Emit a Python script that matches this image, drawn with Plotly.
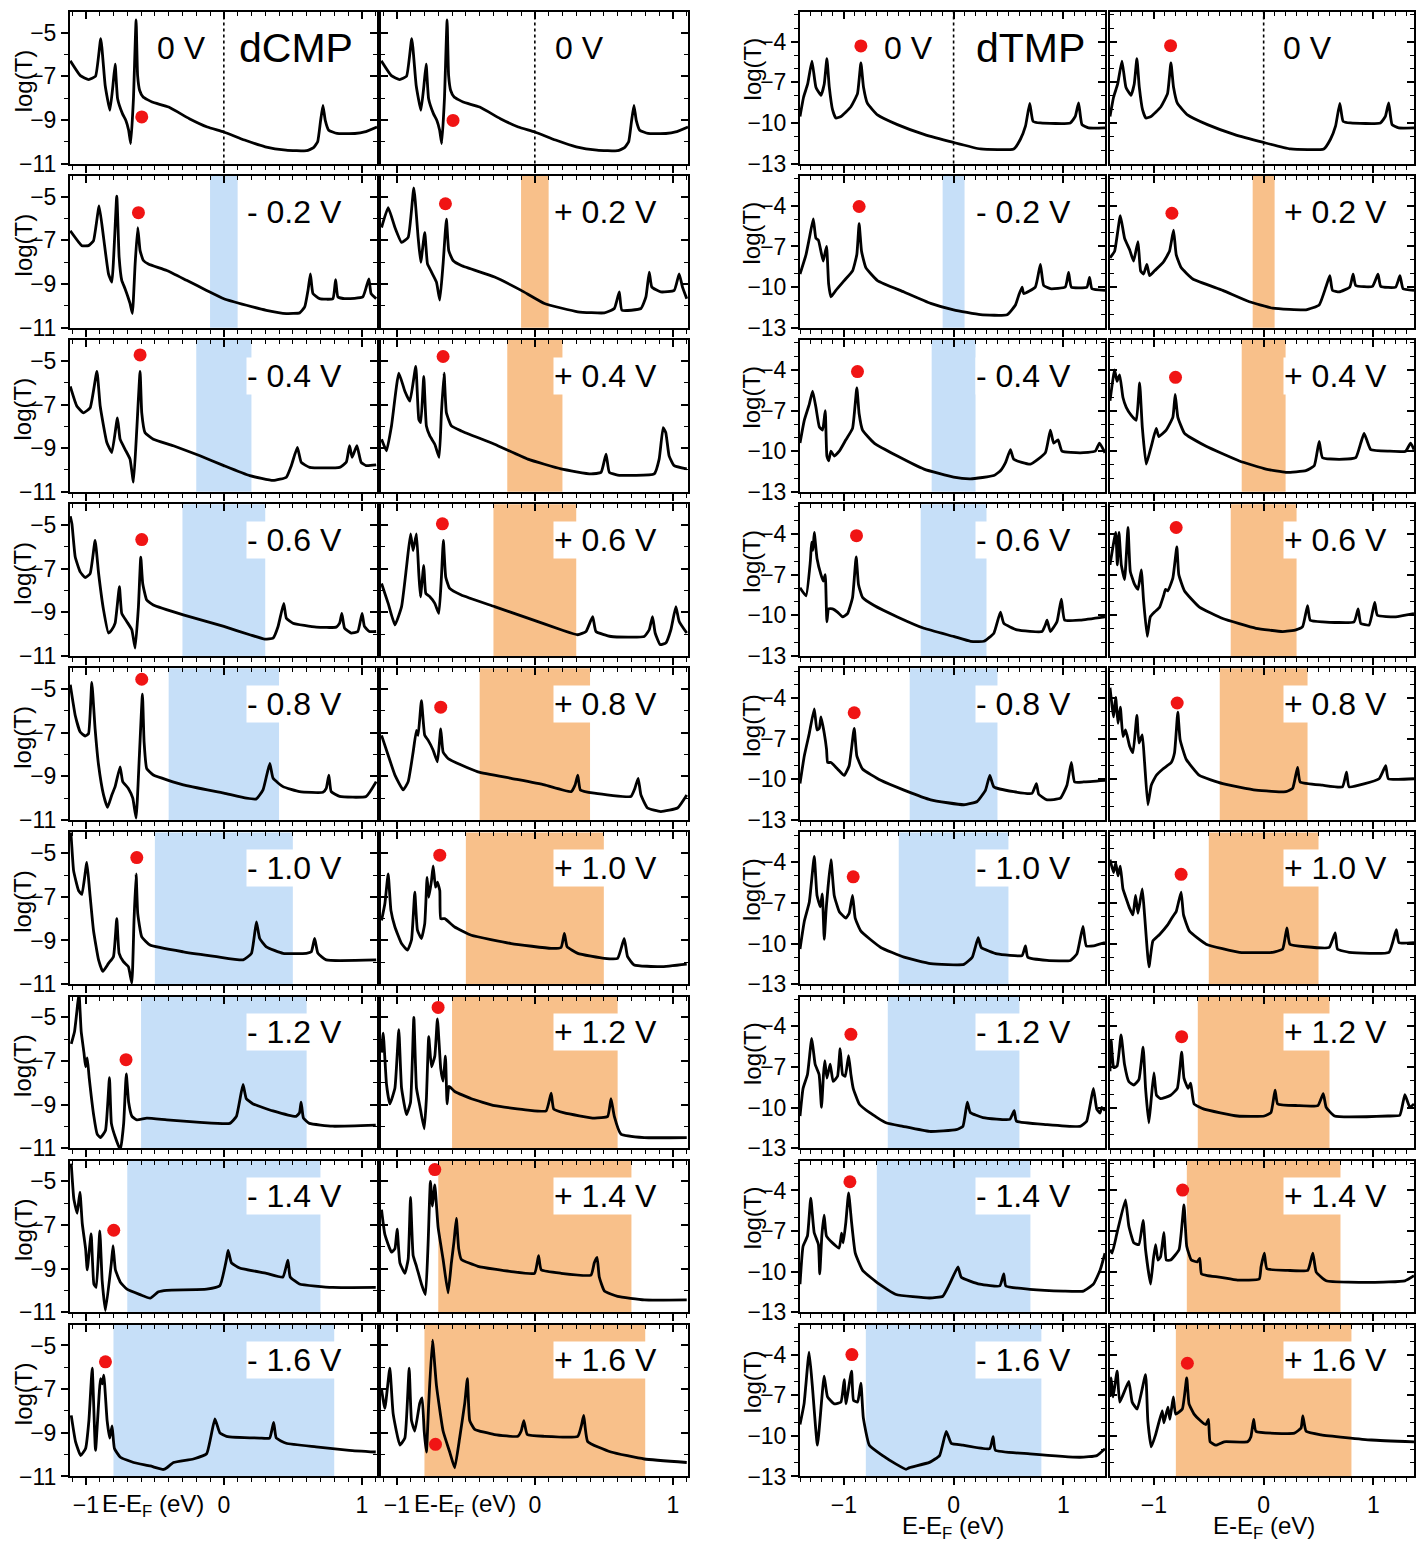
import plotly.graph_objects as go

# ------------------------------------------------------------------ data
bias = [0.0, 0.2, 0.4, 0.6, 0.8, 1.0, 1.2, 1.4, 1.6]

# ---- dCMP, 0 V (shared by both dCMP columns)
cmp_0_E = [-1.113, -1.04, -0.98, -0.93, -0.892, -0.86, -0.826, -0.805, -0.788, -0.77, -0.735, -0.71, -0.69, -0.675, -0.655, -0.636, -0.625, -0.61, -0.585, -0.52, -0.40, -0.25, -0.12, 0.0, 0.15, 0.30, 0.45, 0.60, 0.65, 0.68, 0.70, 0.718, 0.735, 0.76, 0.82, 0.95, 1.02, 1.11]
cmp_0_T = [-6.29, -6.97, -7.15, -7.0, -5.27, -7.42, -8.56, -7.5, -6.44, -8.03, -8.71, -9.02, -9.47, -10.08, -8.0, -4.42, -6.97, -7.65, -7.95, -8.18, -8.41, -8.94, -9.32, -9.55, -9.92, -10.23, -10.38, -10.41, -10.27, -10.0, -9.09, -8.33, -9.02, -9.47, -9.62, -9.62, -9.55, -9.32]

# ---- dCMP negative bias
cmp_n02_E = [-1.113, -1.029, -0.981, -0.945, -0.904, -0.872, -0.836, -0.812, -0.776, -0.759, -0.740, -0.716, -0.680, -0.663, -0.643, -0.624, -0.607, -0.583, -0.547, -0.414, -0.270, -0.125, 0.0, 0.164, 0.308, 0.453, 0.549, 0.586, 0.610, 0.627, 0.646, 0.694, 0.790, 0.810, 0.827, 0.887, 1.007, 1.051, 1.067, 1.104]
cmp_n02_T = [-6.56, -7.24, -7.24, -7.02, -5.42, -6.86, -8.53, -8.91, -4.97, -7.77, -8.83, -9.21, -9.89, -10.35, -8.08, -6.41, -7.47, -7.92, -8.08, -8.38, -8.83, -9.29, -9.67, -9.97, -10.20, -10.35, -10.32, -10.05, -9.29, -8.53, -9.44, -9.67, -9.67, -8.80, -9.59, -9.67, -9.59, -8.76, -9.44, -9.67]
cmp_n04_E = [-1.113, -1.065, -1.017, -0.969, -0.920, -0.896, -0.848, -0.812, -0.771, -0.752, -0.716, -0.680, -0.655, -0.631, -0.607, -0.595, -0.571, -0.511, -0.366, -0.173, 0.0, 0.188, 0.357, 0.453, 0.489, 0.533, 0.561, 0.622, 0.839, 0.887, 0.911, 0.930, 0.964, 0.995, 1.031, 1.104]
cmp_n04_T = [-6.17, -7.08, -7.38, -7.15, -5.48, -7.08, -8.74, -9.20, -7.61, -8.59, -9.05, -9.50, -10.56, -8.14, -5.48, -7.38, -8.29, -8.59, -8.89, -9.35, -9.80, -10.26, -10.48, -10.33, -9.80, -8.97, -9.65, -9.88, -9.88, -9.65, -8.89, -9.42, -8.89, -9.65, -9.80, -9.77]
cmp_n06_E = [-1.113, -1.101, -1.077, -1.041, -1.005, -0.969, -0.933, -0.908, -0.872, -0.836, -0.812, -0.788, -0.757, -0.740, -0.704, -0.667, -0.643, -0.619, -0.602, -0.588, -0.559, -0.511, -0.294, 0.0, 0.188, 0.296, 0.357, 0.393, 0.434, 0.453, 0.501, 0.670, 0.814, 0.839, 0.855, 0.875, 0.923, 0.971, 1.002, 1.019, 1.055, 1.104]
cmp_n06_T = [-4.6, -4.95, -6.47, -7.15, -7.41, -7.23, -5.71, -7.2, -8.89, -9.95, -9.80, -9.50, -7.83, -9.05, -9.42, -9.80, -10.64, -8.74, -6.47, -7.68, -8.44, -8.67, -9.12, -9.65, -10.03, -10.23, -10.18, -9.65, -8.59, -9.27, -9.50, -9.68, -9.68, -9.50, -9.05, -9.73, -9.95, -9.88, -9.05, -9.65, -9.88, -9.88]
cmp_n08_E = [-1.113, -1.077, -1.041, -1.005, -0.981, -0.957, -0.933, -0.908, -0.872, -0.843, -0.812, -0.788, -0.752, -0.733, -0.692, -0.660, -0.636, -0.612, -0.590, -0.578, -0.559, -0.511, -0.294, 0.0, 0.164, 0.236, 0.284, 0.333, 0.357, 0.429, 0.549, 0.718, 0.742, 0.761, 0.778, 0.839, 1.031, 1.104]
cmp_n08_T = [-4.8, -6.21, -6.97, -7.15, -7.05, -4.70, -6.82, -8.48, -9.85, -10.42, -9.85, -9.47, -8.56, -9.24, -9.55, -10.0, -10.91, -8.03, -5.23, -7.42, -8.64, -8.94, -9.39, -9.77, -10.0, -10.03, -9.62, -8.41, -9.09, -9.47, -9.70, -9.73, -9.55, -8.94, -9.70, -9.92, -9.92, -9.24]
cmp_n10_E = [-1.113, -1.108, -1.089, -1.053, -1.029, -0.993, -0.973, -0.945, -0.908, -0.877, -0.836, -0.800, -0.776, -0.759, -0.728, -0.692, -0.667, -0.651, -0.636, -0.624, -0.595, -0.535, -0.294, -0.053, 0.140, 0.200, 0.236, 0.260, 0.308, 0.429, 0.598, 0.634, 0.658, 0.682, 0.742, 1.104]
cmp_n10_T = [-4.0, -4.14, -5.8, -6.71, -6.89, -5.42, -6.71, -8.53, -9.89, -10.42, -10.05, -9.74, -8.0, -9.59, -9.97, -10.2, -10.95, -8.08, -5.95, -7.77, -8.83, -9.21, -9.52, -9.74, -9.89, -9.59, -8.15, -8.91, -9.29, -9.59, -9.59, -9.52, -8.91, -9.59, -9.89, -9.89]
cmp_n12_E = [-1.106, -1.082, -1.067, -1.050, -1.034, -1.014, -1.002, -0.990, -0.976, -0.942, -0.918, -0.894, -0.858, -0.829, -0.815, -0.786, -0.750, -0.726, -0.707, -0.690, -0.666, -0.630, -0.558, -0.413, -0.173, 0.043, 0.091, 0.139, 0.163, 0.212, 0.356, 0.524, 0.548, 0.560, 0.577, 0.620, 0.788, 1.101]
cmp_n12_T = [-6.22, -5.65, -4.84, -3.87, -5.65, -6.62, -7.27, -6.86, -7.76, -9.54, -10.35, -10.51, -10.19, -7.76, -9.86, -10.51, -11.08, -9.86, -7.59, -8.89, -9.54, -9.70, -9.62, -9.70, -9.81, -9.86, -9.54, -8.08, -8.73, -8.97, -9.29, -9.54, -9.38, -8.89, -9.62, -9.86, -9.99, -9.94]
cmp_n14_E = [-1.106, -1.087, -1.063, -1.043, -1.026, -1.002, -0.990, -0.962, -0.942, -0.925, -0.899, -0.882, -0.858, -0.815, -0.803, -0.786, -0.750, -0.702, -0.606, -0.534, -0.474, -0.413, -0.125, -0.029, 0.019, 0.031, 0.055, 0.115, 0.308, 0.428, 0.464, 0.481, 0.548, 0.788, 1.101]
cmp_n14_T = [-4.19, -5.81, -6.46, -5.49, -6.94, -8.08, -9.05, -7.40, -9.70, -9.86, -7.27, -9.54, -10.92, -8.73, -7.95, -9.05, -9.62, -9.94, -10.19, -10.35, -10.06, -9.99, -9.94, -9.78, -8.57, -8.16, -8.73, -8.97, -9.21, -9.38, -8.61, -9.38, -9.70, -9.86, -9.86]
cmp_n16_E = [-1.106, -1.075, -1.038, -1.002, -0.978, -0.954, -0.930, -0.894, -0.882, -0.870, -0.846, -0.827, -0.810, -0.793, -0.750, -0.654, -0.534, -0.438, -0.413, -0.365, -0.221, -0.125, -0.096, -0.065, -0.029, 0.019, 0.260, 0.332, 0.361, 0.380, 0.452, 0.668, 0.909, 1.101]
cmp_n16_T = [-8.2, -9.4, -10.04, -9.72, -8.44, -6.04, -9.8, -6.52, -6.76, -6.36, -8.44, -9.24, -8.68, -9.72, -10.12, -10.36, -10.52, -10.68, -10.6, -10.36, -10.2, -9.96, -9.24, -8.36, -9.0, -9.16, -9.24, -9.24, -8.52, -9.24, -9.48, -9.64, -9.8, -9.88]

# ---- dCMP positive bias
cmp_p02_E = [-1.111, -1.063, -1.014, -0.966, -0.918, -0.877, -0.846, -0.827, -0.798, -0.778, -0.749, -0.713, -0.689, -0.665, -0.641, -0.624, -0.593, -0.533, -0.292, -0.099, 0.070, 0.311, 0.504, 0.576, 0.612, 0.631, 0.769, 0.805, 0.829, 0.848, 0.913, 1.010, 1.046, 1.070, 1.101]
cmp_p02_T = [-6.41, -5.50, -6.41, -7.09, -6.86, -4.59, -6.86, -8.0, -6.64, -8.08, -8.45, -8.91, -9.74, -8.08, -6.03, -7.47, -7.92, -8.15, -8.68, -9.29, -9.89, -10.27, -10.32, -10.12, -9.36, -10.2, -10.12, -9.59, -8.45, -9.14, -9.36, -9.29, -8.53, -9.14, -9.67]
cmp_p04_E = [-1.111, -1.075, -1.039, -0.986, -0.942, -0.906, -0.863, -0.841, -0.827, -0.805, -0.786, -0.761, -0.725, -0.694, -0.677, -0.658, -0.641, -0.605, -0.533, -0.292, -0.051, 0.190, 0.407, 0.480, 0.516, 0.540, 0.600, 0.865, 0.901, 0.930, 0.949, 0.973, 1.010, 1.101]
cmp_p04_T = [-8.59, -9.12, -7.98, -5.56, -6.39, -6.85, -5.26, -7.68, -7.83, -5.71, -7.98, -8.44, -8.82, -9.42, -7.38, -5.56, -7.38, -7.98, -8.21, -8.82, -9.50, -9.95, -10.18, -10.11, -9.27, -10.11, -10.23, -10.18, -9.50, -8.06, -8.29, -9.35, -9.80, -9.95]
cmp_p06_E = [-1.111, -1.063, -1.014, -0.966, -0.930, -0.901, -0.882, -0.858, -0.841, -0.829, -0.805, -0.790, -0.761, -0.725, -0.696, -0.677, -0.663, -0.646, -0.617, -0.533, -0.292, -0.051, 0.190, 0.311, 0.371, 0.419, 0.443, 0.552, 0.793, 0.829, 0.853, 0.872, 0.908, 0.949, 0.986, 1.022, 1.046, 1.101]
cmp_p06_T = [-7.68, -8.59, -9.58, -8.74, -6.92, -5.41, -6.17, -5.41, -7.23, -8.29, -6.85, -8.14, -8.29, -8.59, -9.05, -7.38, -5.71, -7.38, -7.91, -8.21, -8.74, -9.27, -9.80, -10.03, -9.88, -9.20, -9.88, -10.11, -10.11, -9.80, -9.20, -9.95, -10.48, -10.41, -9.80, -8.74, -9.42, -9.95]
cmp_p08_E = [-1.111, -1.063, -1.014, -0.954, -0.918, -0.882, -0.858, -0.846, -0.822, -0.798, -0.773, -0.737, -0.706, -0.682, -0.665, -0.629, -0.533, -0.412, -0.171, 0.070, 0.263, 0.292, 0.311, 0.330, 0.431, 0.696, 0.725, 0.749, 0.769, 0.817, 0.913, 1.034, 1.101]
cmp_p08_T = [-7.12, -8.03, -8.94, -9.62, -9.24, -7.88, -6.89, -7.12, -5.53, -7.12, -7.35, -7.80, -8.33, -6.82, -7.88, -8.18, -8.48, -8.79, -9.09, -9.39, -9.70, -9.39, -8.94, -9.62, -9.77, -9.92, -9.55, -9.09, -9.85, -10.45, -10.61, -10.45, -9.85]
cmp_p10_E = [-1.111, -1.087, -1.063, -1.043, -1.014, -0.966, -0.923, -0.894, -0.870, -0.851, -0.822, -0.798, -0.781, -0.769, -0.749, -0.737, -0.720, -0.706, -0.689, -0.682, -0.653, -0.581, -0.460, -0.171, 0.118, 0.190, 0.214, 0.234, 0.311, 0.504, 0.600, 0.648, 0.672, 0.720, 0.913, 1.101]
cmp_p10_T = [-8.08, -7.32, -5.95, -7.62, -8.38, -9.14, -9.44, -8.98, -6.79, -8.53, -8.91, -8.23, -6.11, -7.02, -6.26, -5.58, -6.56, -6.33, -6.71, -8.0, -8.0, -8.38, -8.76, -9.14, -9.36, -9.32, -8.68, -9.29, -9.59, -9.82, -9.82, -8.91, -9.74, -10.12, -10.2, -10.08]
cmp_p12_E = [-1.111, -1.099, -1.075, -1.051, -1.014, -0.986, -0.966, -0.930, -0.901, -0.877, -0.858, -0.834, -0.802, -0.786, -0.769, -0.749, -0.725, -0.706, -0.682, -0.665, -0.648, -0.636, -0.622, -0.581, -0.460, -0.292, -0.051, 0.082, 0.118, 0.137, 0.214, 0.431, 0.528, 0.552, 0.576, 0.624, 0.793, 1.101]
cmp_p12_T = [-6.62, -5.73, -8.08, -8.97, -8.24, -5.57, -8.24, -9.46, -8.89, -5.0, -8.24, -9.05, -10.11, -8.73, -5.89, -7.27, -6.78, -5.08, -7.35, -7.92, -6.78, -8.97, -8.16, -8.40, -8.73, -9.05, -9.25, -9.29, -8.48, -9.21, -9.38, -9.62, -9.54, -8.73, -9.54, -10.35, -10.51, -10.51]
cmp_p14_E = [-1.111, -1.087, -1.039, -1.014, -0.998, -0.978, -0.942, -0.918, -0.901, -0.882, -0.858, -0.822, -0.793, -0.774, -0.757, -0.742, -0.725, -0.701, -0.665, -0.629, -0.605, -0.586, -0.569, -0.552, -0.533, -0.412, -0.171, -0.002, 0.027, 0.046, 0.190, 0.407, 0.431, 0.451, 0.467, 0.504, 0.600, 0.793, 1.101]
cmp_p14_T = [-6.30, -7.43, -8.24, -8.08, -7.19, -8.73, -9.21, -8.57, -5.73, -8.40, -8.89, -9.70, -10.19, -7.92, -5.0, -6.13, -5.16, -7.11, -8.57, -10.11, -8.73, -7.76, -6.70, -8.08, -8.57, -8.89, -9.13, -9.21, -8.40, -9.05, -9.21, -9.29, -8.73, -8.48, -9.38, -10.02, -10.27, -10.43, -10.43]
cmp_p16_E = [-1.111, -1.087, -1.051, -1.027, -0.978, -0.942, -0.911, -0.894, -0.870, -0.834, -0.817, -0.802, -0.786, -0.769, -0.742, -0.713, -0.665, -0.617, -0.581, -0.545, -0.508, -0.489, -0.472, -0.436, -0.292, -0.123, -0.099, -0.080, -0.055, 0.070, 0.311, 0.340, 0.354, 0.383, 0.552, 0.793, 1.101]
cmp_p16_T = [-7.0, -7.88, -6.04, -8.12, -9.56, -9.24, -6.04, -8.44, -8.92, -7.64, -7.40, -8.92, -9.88, -7.64, -4.76, -6.84, -8.92, -9.88, -10.6, -9.24, -7.64, -6.52, -8.44, -8.84, -9.08, -9.16, -8.92, -8.44, -9.08, -9.16, -9.16, -8.6, -8.20, -9.40, -9.88, -10.2, -10.36]

# ---- dTMP, 0 V (shared by both dTMP columns)
tmp_0_E = [-1.40, -1.367, -1.330, -1.291, -1.255, -1.209, -1.179, -1.155, -1.133, -1.103, -1.073, -1.027, -0.936, -0.876, -0.845, -0.821, -0.785, -0.694, -0.512, -0.270, 0.0, 0.245, 0.548, 0.609, 0.655, 0.694, 0.724, 0.791, 1.064, 1.109, 1.139, 1.170, 1.230, 1.38]
tmp_0_T = [-9.52, -8.08, -7.12, -5.44, -7.36, -7.96, -7.12, -5.25, -7.36, -9.04, -9.64, -9.52, -8.80, -7.84, -5.56, -7.36, -8.56, -9.40, -10.12, -10.84, -11.44, -11.92, -11.92, -11.2, -10.24, -8.56, -9.88, -10.0, -10.0, -9.52, -8.51, -10.12, -10.36, -10.36]

# ---- dTMP negative bias
tmp_n02_E = [-1.40, -1.345, -1.315, -1.279, -1.255, -1.233, -1.209, -1.188, -1.158, -1.139, -1.118, -1.073, -0.997, -0.921, -0.882, -0.861, -0.839, -0.800, -0.694, -0.452, -0.209, 0.0, 0.245, 0.488, 0.564, 0.594, 0.624, 0.639, 0.745, 0.791, 0.821, 0.882, 1.018, 1.048, 1.073, 1.215, 1.239, 1.261, 1.38]
tmp_n02_T = [-9.04, -7.60, -6.40, -4.96, -6.40, -6.52, -7.36, -8.08, -7.0, -9.76, -10.72, -10.24, -9.52, -8.80, -7.60, -5.32, -7.36, -8.56, -9.52, -10.36, -11.20, -11.68, -12.04, -12.04, -11.32, -10.6, -10.0, -10.48, -10.0, -8.32, -9.88, -10.12, -10.0, -8.92, -10.0, -10.0, -9.28, -10.12, -10.24]
tmp_n04_E = [-1.40, -1.361, -1.315, -1.285, -1.255, -1.224, -1.194, -1.170, -1.155, -1.139, -1.118, -1.088, -1.042, -0.982, -0.921, -0.882, -0.861, -0.830, -0.724, -0.512, -0.270, 0.0, 0.155, 0.367, 0.427, 0.473, 0.518, 0.548, 0.700, 0.836, 0.882, 0.912, 0.952, 0.988, 1.155, 1.291, 1.330, 1.38]
tmp_n04_T = [-9.4, -7.72, -6.52, -5.56, -6.76, -8.2, -8.44, -7.0, -10.36, -10.72, -10.0, -10.36, -10.0, -9.16, -8.32, -5.32, -7.24, -8.44, -9.40, -10.36, -11.32, -11.92, -12.04, -11.80, -11.44, -10.84, -9.88, -10.60, -10.96, -10.12, -8.44, -9.40, -9.16, -10.0, -10.12, -10.0, -9.4, -10.12]
tmp_n06_E = [-1.40, -1.345, -1.306, -1.294, -1.282, -1.270, -1.245, -1.209, -1.188, -1.170, -1.155, -1.139, -1.103, -1.058, -1.012, -0.967, -0.921, -0.888, -0.867, -0.830, -0.724, -0.512, -0.270, 0.0, 0.155, 0.276, 0.367, 0.427, 0.458, 0.579, 0.806, 0.836, 0.852, 0.882, 0.942, 0.982, 1.012, 1.155, 1.38]
tmp_n06_T = [-7.96, -8.56, -6.04, -4.6, -5.2, -3.88, -5.8, -7.0, -7.48, -7.0, -10.48, -9.52, -9.52, -9.76, -10.12, -9.88, -8.68, -5.68, -7.72, -8.68, -9.28, -10.12, -10.96, -11.56, -11.92, -11.92, -11.32, -9.76, -10.6, -11.08, -11.2, -10.72, -10.36, -11.2, -10.48, -8.8, -10.36, -10.36, -10.12]
tmp_n08_E = [-1.40, -1.361, -1.315, -1.270, -1.245, -1.224, -1.209, -1.179, -1.158, -1.148, -1.118, -1.058, -0.997, -0.952, -0.906, -0.882, -0.830, -0.664, -0.452, -0.209, 0.094, 0.215, 0.291, 0.330, 0.367, 0.548, 0.715, 0.755, 0.776, 0.852, 0.973, 1.033, 1.073, 1.103, 1.185, 1.38]
tmp_n08_T = [-10.31, -8.27, -6.59, -4.79, -6.35, -6.23, -5.39, -6.59, -7.79, -8.75, -8.75, -9.23, -9.71, -8.99, -6.23, -8.27, -9.23, -10.07, -10.79, -11.51, -11.87, -11.63, -10.79, -9.71, -10.55, -10.91, -11.03, -10.31, -11.10, -11.51, -11.39, -10.43, -8.75, -10.19, -10.19, -10.07]
tmp_n10_E = [-1.40, -1.361, -1.315, -1.270, -1.245, -1.215, -1.197, -1.179, -1.161, -1.118, -1.088, -1.042, -0.982, -0.952, -0.921, -0.897, -0.845, -0.664, -0.452, -0.209, 0.094, 0.170, 0.224, 0.252, 0.397, 0.624, 0.655, 0.676, 0.852, 1.064, 1.124, 1.179, 1.209, 1.276, 1.38]
tmp_n10_T = [-10.41, -8.37, -6.93, -3.57, -6.45, -7.29, -6.33, -9.69, -7.41, -3.81, -6.45, -7.65, -8.13, -7.77, -6.45, -8.13, -9.09, -10.29, -11.01, -11.49, -11.54, -11.01, -9.57, -10.29, -10.77, -10.89, -10.17, -11.01, -11.25, -11.25, -10.77, -8.73, -10.17, -10.17, -9.93]
tmp_n12_E = [-1.40, -1.372, -1.332, -1.293, -1.262, -1.226, -1.204, -1.186, -1.174, -1.155, -1.125, -1.098, -1.058, -1.034, -1.012, -0.988, -0.957, -0.936, -0.915, -0.860, -0.768, -0.616, -0.463, -0.220, 0.024, 0.085, 0.125, 0.152, 0.268, 0.512, 0.552, 0.573, 0.848, 1.152, 1.213, 1.274, 1.305, 1.335, 1.351, 1.38]
tmp_n12_T = [-10.62, -8.58, -7.56, -4.89, -6.80, -7.56, -9.98, -7.56, -6.54, -7.82, -6.80, -8.07, -7.69, -5.65, -7.56, -7.69, -6.16, -7.56, -8.58, -9.73, -10.36, -11.12, -11.38, -11.76, -11.63, -11.38, -9.60, -10.36, -10.74, -10.87, -10.23, -11.0, -11.25, -11.38, -11.0, -8.58, -10.11, -10.41, -9.98, -10.23]
tmp_n14_E = [-1.40, -1.372, -1.332, -1.302, -1.271, -1.232, -1.220, -1.201, -1.180, -1.159, -1.104, -1.043, -1.021, -1.006, -0.982, -0.957, -0.930, -0.896, -0.829, -0.677, -0.524, -0.220, -0.098, -0.037, 0.040, 0.070, 0.238, 0.421, 0.457, 0.476, 0.695, 1.0, 1.183, 1.274, 1.335, 1.38]
tmp_n14_T = [-10.92, -8.12, -7.36, -4.56, -7.10, -8.0, -10.16, -7.36, -5.83, -7.36, -7.87, -8.25, -7.16, -7.87, -6.34, -4.18, -6.34, -8.63, -9.90, -10.92, -11.68, -11.94, -11.81, -10.92, -9.65, -10.41, -10.92, -11.05, -10.16, -11.05, -11.30, -11.43, -11.43, -10.92, -9.90, -8.63]
tmp_n16_E = [-1.40, -1.363, -1.317, -1.287, -1.241, -1.180, -1.149, -1.088, -1.027, -0.997, -0.982, -0.930, -0.912, -0.875, -0.845, -0.823, -0.768, -0.646, -0.524, -0.433, -0.402, -0.220, -0.128, -0.067, -0.021, 0.085, 0.329, 0.360, 0.381, 0.695, 1.152, 1.305, 1.38]
tmp_n16_T = [-9.17, -7.64, -3.82, -6.37, -10.69, -5.60, -7.13, -7.64, -7.51, -5.86, -7.64, -5.22, -7.38, -7.51, -6.11, -8.66, -10.69, -11.46, -12.09, -12.47, -12.35, -11.96, -11.46, -9.67, -10.56, -10.69, -10.95, -10.06, -11.07, -11.33, -11.58, -11.46, -10.95]

# ---- dTMP positive bias
tmp_p02_E = [-1.40, -1.358, -1.306, -1.267, -1.221, -1.185, -1.145, -1.121, -1.094, -1.064, -1.039, -0.994, -0.918, -0.858, -0.821, -0.797, -0.752, -0.645, -0.373, -0.130, 0.082, 0.385, 0.506, 0.567, 0.603, 0.627, 0.688, 0.785, 0.815, 0.839, 0.991, 1.042, 1.067, 1.203, 1.242, 1.270, 1.37]
tmp_p02_T = [-7.84, -7.36, -4.72, -6.40, -7.24, -8.08, -6.64, -8.80, -9.04, -8.32, -9.16, -8.80, -8.20, -7.36, -5.80, -7.60, -8.56, -9.40, -10.24, -11.08, -11.56, -11.68, -11.32, -10.0, -9.16, -10.24, -10.36, -10.0, -9.04, -9.88, -9.95, -9.04, -9.95, -10.0, -9.16, -10.12, -10.24]
tmp_p04_E = [-1.40, -1.358, -1.336, -1.312, -1.282, -1.252, -1.206, -1.161, -1.130, -1.106, -1.070, -1.024, -0.979, -0.955, -0.888, -0.827, -0.806, -0.782, -0.721, -0.524, -0.221, 0.021, 0.203, 0.385, 0.461, 0.506, 0.536, 0.688, 0.839, 0.885, 0.915, 0.939, 0.976, 1.142, 1.294, 1.339, 1.37]
tmp_p04_T = [-6.28, -4.0, -4.84, -4.36, -6.04, -6.76, -7.36, -7.72, -4.96, -8.20, -10.96, -9.64, -8.32, -8.92, -8.44, -7.48, -5.80, -7.48, -8.68, -9.64, -10.72, -11.32, -11.56, -11.44, -11.08, -9.28, -10.48, -10.60, -10.48, -9.4, -8.68, -9.16, -9.88, -10.0, -10.0, -9.40, -9.88]
tmp_p06_E = [-1.40, -1.348, -1.333, -1.318, -1.297, -1.267, -1.236, -1.215, -1.176, -1.145, -1.115, -1.094, -1.061, -1.033, -0.994, -0.948, -0.912, -0.894, -0.873, -0.827, -0.791, -0.773, -0.721, -0.585, -0.373, -0.070, 0.173, 0.294, 0.355, 0.400, 0.424, 0.536, 0.824, 0.861, 0.885, 0.961, 1.012, 1.036, 1.203, 1.37]
tmp_p06_T = [-6.28, -3.88, -6.28, -3.88, -6.28, -7.36, -3.52, -6.76, -7.72, -8.08, -6.64, -8.92, -11.56, -10.12, -9.76, -9.40, -8.56, -8.08, -8.20, -7.24, -4.96, -7.0, -8.20, -9.40, -10.24, -10.96, -11.20, -11.08, -10.84, -9.28, -10.36, -10.48, -10.48, -9.52, -10.60, -10.72, -9.04, -10.0, -10.12, -9.88]
tmp_p08_E = [-1.40, -1.367, -1.348, -1.327, -1.306, -1.282, -1.258, -1.221, -1.191, -1.155, -1.136, -1.106, -1.085, -1.055, -1.024, -0.979, -0.918, -0.842, -0.812, -0.782, -0.761, -0.706, -0.585, -0.373, -0.070, 0.203, 0.264, 0.309, 0.333, 0.536, 0.718, 0.755, 0.779, 1.052, 1.112, 1.136, 1.37]
tmp_p08_T = [-3.23, -5.39, -3.95, -5.87, -4.67, -6.83, -6.35, -7.55, -8.03, -5.27, -7.31, -6.71, -8.75, -11.87, -10.43, -9.71, -9.23, -8.75, -8.03, -5.03, -7.07, -8.51, -9.71, -10.31, -10.79, -10.91, -10.67, -9.11, -10.19, -10.43, -10.55, -9.47, -10.55, -9.95, -8.99, -9.95, -9.95]
tmp_p10_E = [-1.40, -1.367, -1.348, -1.327, -1.306, -1.282, -1.252, -1.221, -1.191, -1.167, -1.145, -1.106, -1.085, -1.045, -1.009, -0.948, -0.873, -0.827, -0.797, -0.752, -0.730, -0.676, -0.524, -0.221, 0.082, 0.173, 0.212, 0.239, 0.385, 0.597, 0.652, 0.673, 0.779, 1.142, 1.209, 1.233, 1.37]
tmp_p10_T = [-3.81, -4.77, -4.05, -5.01, -4.29, -5.97, -6.69, -7.41, -7.89, -6.45, -7.77, -5.97, -7.89, -11.73, -9.81, -9.33, -8.61, -8.0, -7.65, -6.21, -7.89, -9.09, -10.05, -10.65, -10.65, -10.41, -8.85, -10.05, -10.24, -10.29, -9.21, -10.41, -10.65, -10.65, -8.97, -9.93, -9.93]
tmp_p12_E = [-1.40, -1.390, -1.366, -1.335, -1.299, -1.268, -1.229, -1.183, -1.137, -1.098, -1.076, -1.046, -1.024, -1.0, -0.976, -0.939, -0.848, -0.787, -0.747, -0.726, -0.689, -0.665, -0.634, -0.543, -0.238, 0.006, 0.067, 0.104, 0.128, 0.311, 0.494, 0.543, 0.570, 0.646, 1.134, 1.241, 1.287, 1.332, 1.37]
tmp_p12_T = [-7.31, -5.02, -7.05, -6.93, -4.64, -6.80, -8.07, -8.33, -7.94, -5.53, -8.58, -11.12, -9.34, -7.44, -9.09, -9.34, -9.09, -8.58, -5.91, -7.82, -8.58, -8.20, -9.73, -10.11, -10.62, -10.62, -10.36, -8.71, -9.73, -9.85, -9.85, -8.96, -9.98, -10.62, -10.62, -10.56, -9.04, -9.98, -9.73]
tmp_p14_E = [-1.40, -1.381, -1.335, -1.259, -1.229, -1.183, -1.137, -1.098, -1.076, -1.030, -1.006, -0.985, -0.963, -0.939, -0.909, -0.887, -0.848, -0.771, -0.726, -0.701, -0.659, -0.604, -0.582, -0.567, -0.512, -0.390, -0.238, -0.040, -0.024, 0.006, 0.030, 0.220, 0.402, 0.448, 0.479, 0.570, 0.982, 1.287, 1.37]
tmp_p14_T = [-8.38, -8.63, -7.10, -4.69, -6.60, -7.87, -8.0, -6.21, -8.38, -10.92, -9.14, -8.0, -9.14, -8.89, -7.10, -9.14, -9.14, -8.38, -5.07, -8.12, -9.14, -9.27, -9.01, -10.16, -10.29, -10.41, -10.62, -10.54, -9.65, -8.63, -9.78, -9.90, -9.90, -8.63, -10.03, -10.67, -10.79, -10.67, -10.29]
tmp_p16_E = [-1.40, -1.390, -1.372, -1.335, -1.311, -1.229, -1.198, -1.152, -1.076, -1.055, -1.024, -0.985, -0.924, -0.909, -0.872, -0.854, -0.823, -0.802, -0.741, -0.701, -0.680, -0.634, -0.573, -0.527, -0.503, -0.488, -0.436, -0.360, -0.146, -0.116, -0.091, -0.070, 0.280, 0.341, 0.357, 0.387, 0.524, 0.982, 1.37]
tmp_p16_T = [-7.13, -5.73, -7.13, -5.22, -7.51, -5.98, -7.51, -8.02, -5.48, -8.91, -10.82, -9.93, -8.15, -9.04, -7.89, -8.78, -7.13, -8.40, -8.02, -5.73, -7.64, -8.40, -8.91, -9.17, -8.78, -10.44, -10.69, -10.44, -10.44, -10.06, -8.78, -9.67, -9.80, -9.42, -8.53, -9.67, -9.93, -10.31, -10.44]

# ---- red dots (one per panel, rows 0 V ... 1.6 V)
cmp_neg_dot_E = [-0.595, -0.619, -0.607, -0.595, -0.595, -0.631, -0.709, -0.798, -0.858]
cmp_neg_dot_T = [-8.86, -5.73, -4.73, -5.67, -4.55, -5.2, -6.94, -7.24, -5.75]
cmp_pos_dot_E = [-0.593, -0.648, -0.665, -0.670, -0.682, -0.689, -0.701, -0.725, -0.720]
cmp_pos_dot_T = [-9.02, -5.32, -4.80, -4.95, -5.83, -5.09, -4.55, -4.46, -9.53]
tmp_neg_dot_E = [-0.845, -0.861, -0.876, -0.885, -0.906, -0.915, -0.936, -0.945, -0.927]
tmp_neg_dot_T = [-4.31, -4.05, -4.12, -4.12, -5.08, -5.08, -4.59, -3.36, -4.0]
tmp_pos_dot_E = [-0.848, -0.836, -0.803, -0.797, -0.788, -0.752, -0.747, -0.738, -0.695]
tmp_pos_dot_T = [-4.29, -4.55, -4.55, -3.52, -4.36, -4.89, -4.76, -3.97, -4.64]

# ------------------------------------------------------------------ assemble
cmp_neg = [(cmp_0_E, cmp_0_T), (cmp_n02_E, cmp_n02_T), (cmp_n04_E, cmp_n04_T), (cmp_n06_E, cmp_n06_T),
           (cmp_n08_E, cmp_n08_T), (cmp_n10_E, cmp_n10_T), (cmp_n12_E, cmp_n12_T), (cmp_n14_E, cmp_n14_T),
           (cmp_n16_E, cmp_n16_T)]
cmp_pos = [(cmp_0_E, cmp_0_T), (cmp_p02_E, cmp_p02_T), (cmp_p04_E, cmp_p04_T), (cmp_p06_E, cmp_p06_T),
           (cmp_p08_E, cmp_p08_T), (cmp_p10_E, cmp_p10_T), (cmp_p12_E, cmp_p12_T), (cmp_p14_E, cmp_p14_T),
           (cmp_p16_E, cmp_p16_T)]
tmp_neg = [(tmp_0_E, tmp_0_T), (tmp_n02_E, tmp_n02_T), (tmp_n04_E, tmp_n04_T), (tmp_n06_E, tmp_n06_T),
           (tmp_n08_E, tmp_n08_T), (tmp_n10_E, tmp_n10_T), (tmp_n12_E, tmp_n12_T), (tmp_n14_E, tmp_n14_T),
           (tmp_n16_E, tmp_n16_T)]
tmp_pos = [(tmp_0_E, tmp_0_T), (tmp_p02_E, tmp_p02_T), (tmp_p04_E, tmp_p04_T), (tmp_p06_E, tmp_p06_T),
           (tmp_p08_E, tmp_p08_T), (tmp_p10_E, tmp_p10_T), (tmp_p12_E, tmp_p12_T), (tmp_p14_E, tmp_p14_T),
           (tmp_p16_E, tmp_p16_T)]

W, H = 1416, 1544
FONT = "Liberation Sans, Arial, Helvetica, sans-serif"
BLUE = "#c6dff8"
ORANGE = "#f8c08a"
RED = "#f01414"

columns = [
    dict(curves=cmp_neg, dE=cmp_neg_dot_E, dT=cmp_neg_dot_T, sign="-", fill=BLUE,
         px=(70, 377), xr=[-1.115, 1.11], yr=[-11, -4.05], ytick=(-11, 2), labels=True,
         lab_x=0.158, zero_x=-0.31, name="dCMP", name_x=0.52),
    dict(curves=cmp_pos, dE=cmp_pos_dot_E, dT=cmp_pos_dot_T, sign="+", fill=ORANGE,
         px=(381, 688), xr=[-1.115, 1.11], yr=[-11, -4.05], ytick=(-11, 2), labels=False,
         lab_x=0.13, zero_x=0.32, name=None, name_x=None),
    dict(curves=tmp_neg, dE=tmp_neg_dot_E, dT=tmp_neg_dot_T, sign="-", fill=BLUE,
         px=(800, 1105), xr=[-1.40, 1.38], yr=[-13, -1.8], ytick=(-13, 3), labels=True,
         lab_x=0.195, zero_x=-0.41, name="dTMP", name_x=0.70),
    dict(curves=tmp_pos, dE=tmp_pos_dot_E, dT=tmp_pos_dot_T, sign="+", fill=ORANGE,
         px=(1110, 1414), xr=[-1.40, 1.37], yr=[-13, -1.8], ytick=(-13, 3), labels=False,
         lab_x=0.177, zero_x=0.40, name=None, name_x=None),
]


def aid(p, n):
    return p if n == 1 else f"{p}{n}"


def lkey(p, n):
    return f"{p}axis" if n == 1 else f"{p}axis{n}"


fig = go.Figure()
layout = {}
shapes = []
annots = []
tickfont = dict(family=FONT, size=23, color="black")

for c, col in enumerate(columns):
    for r in range(9):
        n = c * 9 + r + 1
        m = 36 + n
        top = 12 + 165.5 * r
        bot = 165 + 165.5 * r
        xd = [col["px"][0] / W, col["px"][1] / W]
        yd = [1 - bot / H, 1 - top / H]
        last = (r == 8)

        layout[lkey("x", n)] = dict(
            domain=xd, anchor=aid("y", n), range=col["xr"], tickmode="linear", tick0=0, dtick=1,
            ticks="outside", ticklen=7, tickwidth=1.6, tickcolor="black",
            minor=dict(ticks="outside", ticklen=4, tickwidth=1.3, tickcolor="black", dtick=0.1, tick0=0),
            showticklabels=last, tickfont=dict(family=FONT, size=23, color="black"),
            showline=True, linewidth=2, linecolor="black", mirror=True,
            showgrid=False, zeroline=False, fixedrange=True)
        layout[lkey("y", n)] = dict(
            domain=yd, anchor=aid("x", n), range=col["yr"], tickmode="linear",
            tick0=col["ytick"][0], dtick=col["ytick"][1],
            ticks="outside" if col["labels"] else "inside", ticklen=7, tickwidth=1.6, tickcolor="black",
            minor=dict(ticks="outside" if col["labels"] else "inside", ticklen=4, tickwidth=1.3,
                       tickcolor="black", dtick=1, tick0=col["ytick"][0]),
            showticklabels=col["labels"], tickfont=tickfont,
            showline=True, linewidth=2, linecolor="black", mirror=True,
            showgrid=False, zeroline=False, fixedrange=True)
        # overlay axes for inward ticks on top and right edges
        layout[lkey("x", m)] = dict(
            overlaying=aid("x", n), anchor=aid("y", m), side="top", range=col["xr"],
            tickmode="linear", tick0=0, dtick=1, ticks="inside", ticklen=7, tickwidth=1.6, tickcolor="black",
            minor=dict(ticks="inside", ticklen=4, tickwidth=1.3, tickcolor="black", dtick=0.1, tick0=0),
            showticklabels=False, showline=False, showgrid=False, zeroline=False, fixedrange=True)
        layout[lkey("y", m)] = dict(
            overlaying=aid("y", n), anchor=aid("x", m), side="right", range=col["yr"],
            tickmode="linear", tick0=col["ytick"][0], dtick=col["ytick"][1],
            ticks="inside", ticklen=7, tickwidth=1.6, tickcolor="black",
            minor=dict(ticks="inside", ticklen=4, tickwidth=1.3, tickcolor="black", dtick=1,
                       tick0=col["ytick"][0]),
            showticklabels=False, showline=False, showgrid=False, zeroline=False, fixedrange=True)
        fig.add_trace(go.Scatter(x=[None], y=[None], xaxis=aid("x", m), yaxis=aid("y", m),
                                 mode="lines", showlegend=False, hoverinfo="skip"))

        # bias window shading / zero line
        v = bias[r]
        if v > 0:
            shapes.append(dict(type="rect", xref=aid("x", n), yref=aid("y", n) + " domain",
                               x0=-v / 2, x1=v / 2, y0=0, y1=1, fillcolor=col["fill"],
                               line=dict(width=0), layer="below"))
        else:
            shapes.append(dict(type="line", xref=aid("x", n), yref=aid("y", n) + " domain",
                               x0=0, x1=0, y0=0, y1=1, line=dict(color="black", width=1.6, dash="dot"),
                               layer="below"))

        E, T = col["curves"][r]
        fig.add_trace(go.Scatter(x=E, y=T, mode="lines",
                                 line=dict(color="black", width=2.8, shape="spline", smoothing=0.4),
                                 xaxis=aid("x", n), yaxis=aid("y", n), showlegend=False, hoverinfo="skip"))
        fig.add_trace(go.Scatter(x=[col["dE"][r]], y=[col["dT"][r]], mode="markers",
                                 marker=dict(color=RED, size=13), cliponaxis=False,
                                 xaxis=aid("x", n), yaxis=aid("y", n), showlegend=False, hoverinfo="skip"))

        ymid = 1 - 36 / 153.0
        if v > 0:
            annots.append(dict(text=f"{col['sign']} {v:.1f} V", xref=aid("x", n), yref=aid("y", n) + " domain",
                               x=col["lab_x"], y=ymid, xanchor="left", yanchor="middle", showarrow=False,
                               bgcolor="white", borderpad=0,
                               font=dict(family=FONT, size=32, color="black")))
        else:
            annots.append(dict(text="0 V", xref=aid("x", n), yref=aid("y", n) + " domain",
                               x=col["zero_x"], y=ymid, xanchor="center", yanchor="middle", showarrow=False,
                               font=dict(family=FONT, size=32, color="black")))
            if col["name"]:
                annots.append(dict(text=col["name"], xref=aid("x", n), yref=aid("y", n) + " domain",
                                   x=col["name_x"], y=ymid, xanchor="center", yanchor="middle",
                                   showarrow=False, font=dict(family=FONT, size=41, color="black")))

        # y-axis titles
        if c == 0:
            annots.append(dict(text="log(T)", xref="paper", yref="paper", x=23 / W,
                               y=1 - (82 + 165.5 * r) / H, textangle=-90, showarrow=False,
                               xanchor="center", yanchor="middle",
                               font=dict(family=FONT, size=24, color="black")))
        if c == 2:
            annots.append(dict(text="log(T)", xref="paper", yref="paper", x=752 / W,
                               y=1 - (70 + 165.5 * r) / H, textangle=-90, showarrow=False,
                               xanchor="center", yanchor="middle",
                               font=dict(family=FONT, size=24, color="black")))

# x-axis titles
for cx, cy in [(153, 1518), (465, 1518), (953, 1540), (1264, 1540)]:
    annots.append(dict(text="E-E<sub>F</sub> (eV)", xref="paper", yref="paper", x=cx / W, y=1 - cy / H,
                       xanchor="center", yanchor="middle", showarrow=False,
                       font=dict(family=FONT, size=24, color="black")))

fig.update_layout(width=W, height=H, margin=dict(l=0, r=0, t=0, b=0),
                  paper_bgcolor="white", plot_bgcolor="white",
                  shapes=shapes, annotations=annots, showlegend=False, **layout)

fig.write_html("out.html", config={"displayModeBar": False},
               post_script="document.body.style.margin='0px';document.body.style.padding='0px';")
